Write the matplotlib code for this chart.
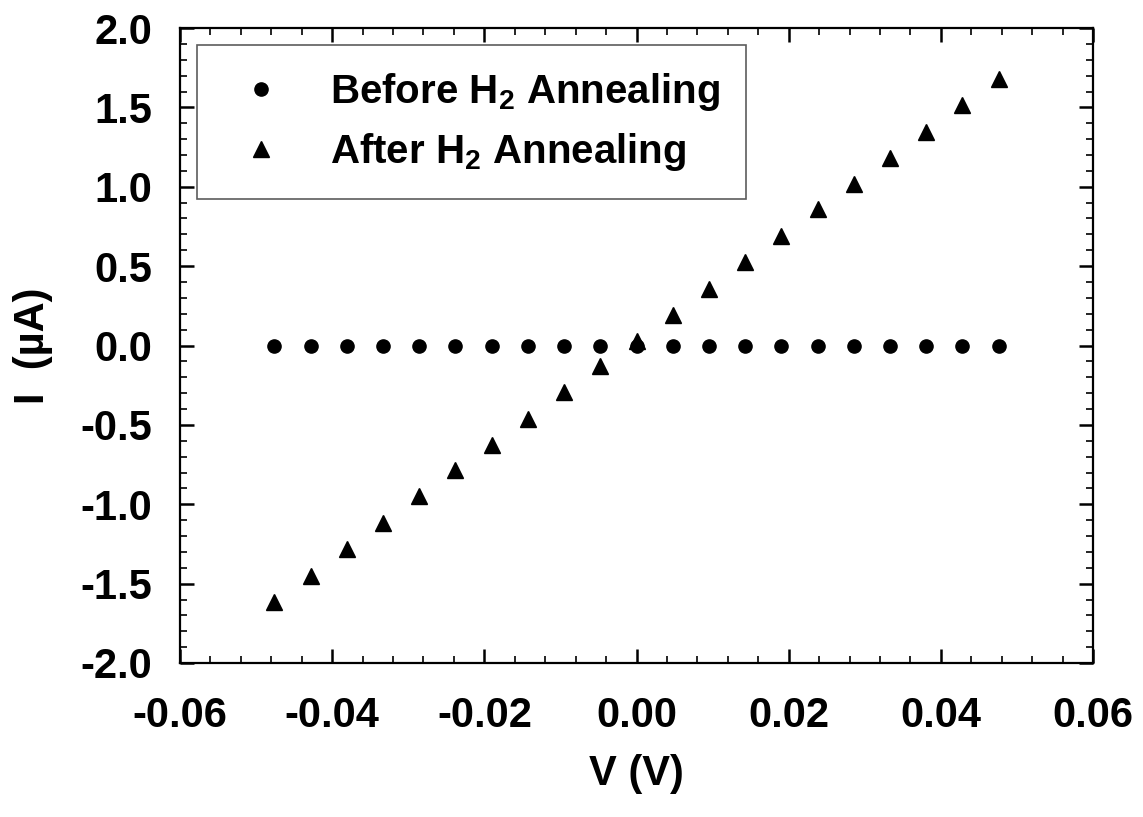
import matplotlib
matplotlib.use("Agg")
import matplotlib.pyplot as plt
from matplotlib.ticker import MultipleLocator, FormatStrFormatter

plt.rcParams['font.family'] = ['Liberation Sans', 'DejaVu Sans']
plt.rcParams['font.weight'] = 'bold'
plt.rcParams['mathtext.fontset'] = 'custom'
plt.rcParams['mathtext.rm'] = 'Liberation Sans:bold'
plt.rcParams['mathtext.it'] = 'Liberation Sans:bold'
plt.rcParams['mathtext.bf'] = 'Liberation Sans:bold'
plt.rcParams['mathtext.default'] = 'rm'

# Data
voltage = [-0.0476, -0.0428, -0.0381, -0.0333, -0.0286, -0.0238, -0.0190, -0.0143,
           -0.0095, -0.0048, 0.0000, 0.0048, 0.0095, 0.0143, 0.0190, 0.0238,
           0.0286, 0.0333, 0.0381, 0.0428, 0.0476]
current_before = [0.0] * 21
current_after = [-1.613, -1.449, -1.285, -1.121, -0.951, -0.787, -0.624, -0.460,
                 -0.296, -0.132, 0.031, 0.195, 0.359, 0.523, 0.687, 0.857,
                 1.020, 1.184, 1.348, 1.512, 1.676]
label_before = r'Before H$_{2}$ Annealing'
label_after = r'After H$_{2}$ Annealing'

fig = plt.figure(figsize=(11.43, 8.17), dpi=100)
ax = fig.add_axes([180/1143, 1-663/817, (1093-180)/1143, (663-28)/817])

ax.plot(voltage, current_before, linestyle='none', marker='o', color='black',
        markersize=9.5, label=label_before)
ax.plot(voltage, current_after, linestyle='none', marker='^', color='black',
        markersize=11.5, label=label_after)

ax.set_xlim(-0.06, 0.06)
ax.set_ylim(-2.0, 2.0)
ax.xaxis.set_major_locator(MultipleLocator(0.02))
ax.xaxis.set_minor_locator(MultipleLocator(0.004))
ax.yaxis.set_major_locator(MultipleLocator(0.5))
ax.yaxis.set_minor_locator(MultipleLocator(0.1))
ax.xaxis.set_major_formatter(FormatStrFormatter('%.2f'))
ax.yaxis.set_major_formatter(FormatStrFormatter('%.1f'))

for s in ax.spines.values():
    s.set_linewidth(1.6)

ax.tick_params(which='both', direction='in', top=True, right=True)
ax.tick_params(which='major', length=10, width=1.8)
ax.tick_params(which='minor', length=5, width=1.2)
ax.tick_params(axis='x', which='major', labelsize=30, pad=24)
ax.tick_params(axis='y', which='major', labelsize=30, pad=20)
for lbl in ax.get_xticklabels() + ax.get_yticklabels():
    lbl.set_fontweight('bold')

ax.set_xlabel('V (V)', fontsize=30, fontweight='bold', labelpad=13)
ax.set_ylabel('I  (µA)', fontsize=30, fontweight='bold', labelpad=20)

leg = ax.legend(loc='upper left', bbox_to_anchor=(17/913, (663-45)/635),
                prop={'size': 29, 'weight': 'bold'}, frameon=True, fancybox=False,
                borderpad=0.65, handlelength=1.9, handletextpad=0.75,
                labelspacing=0.45, borderaxespad=0.0, numpoints=1)
leg.get_frame().set_edgecolor('#333333')
leg.get_frame().set_linewidth(1.2)

fig.savefig('out.png', dpi=100, facecolor='white')
